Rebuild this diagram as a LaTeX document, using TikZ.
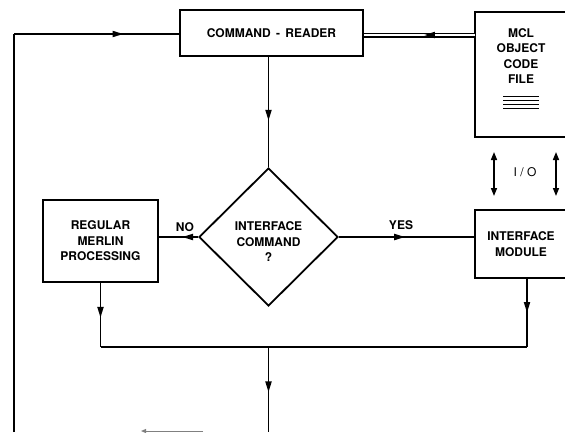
\documentclass[tikz,border=0pt]{standalone}
\usepackage{fontspec}
\setmainfont{TeX Gyre Heros}
\usetikzlibrary{shapes.geometric,arrows.meta,decorations.markings}
\newcommand\lblfont{\bfseries\fontsize{12}{15.5}\selectfont}
\tikzset{
 box/.style={draw, line width=1.8pt, rectangle, inner sep=0pt, font=\lblfont, align=center},
 lbl/.style={font=\lblfont, align=center, inner sep=0pt},
 conn/.style={line width=1.5pt},
 marr/.style={postaction={decorate}, decoration={markings, mark=at position #1 with {\fill (5pt,0pt) -- (-5.5pt,3.3pt) -- (-5.5pt,-3.3pt) -- cycle;}}},
 iotip/.style={{Triangle[length=8pt,width=6pt]}-{Triangle[length=8pt,width=6pt]}},
}
\begin{document}
\begin{tikzpicture}[x=1pt,y=-1pt]
\useasboundingbox (0,0) rectangle (565,432);
\clip (0,0) rectangle (565,432);
% boxes
\node[box, minimum width=183pt, minimum height=46pt] (cr) at (271.5,33) {COMMAND\ \,-\ \,READER};
\node[box, minimum width=92pt, minimum height=125pt] (mcl) at (521,74.5) {};
\node[lbl] (mcltxt) at (521,56) {MCL\\OBJECT\\CODE\\FILE};
\foreach \yy in {96.5,100.5,104.5,108.5} \draw[line width=1.8pt] (503,\yy) -- (539,\yy);
\node[box, minimum width=92pt, minimum height=68pt] (im) at (521,244) {INTERFACE\\MODULE};
\node[box, minimum width=115pt, minimum height=82pt] (reg) at (100.5,241) {REGULAR\\MERLIN\\PROCESSING};
\node[draw, diamond, line width=1.8pt, minimum width=139pt, minimum height=138pt, inner sep=0pt] (dec) at (268.5,237) {};
\node[lbl] (dectxt) at (268.5,242) {INTERFACE\\COMMAND\\?};
% labels
\node[lbl] (notxt) at (185,227) {NO};
\node[lbl] (yestxt) at (401,225) {YES};
\node[lbl, font=\fontsize{12}{14}\selectfont] (iotxt) at (525,172) {I / O};
% coordinates
\coordinate (dblA) at (475,35);
\coordinate (loopbot) at (14,432);
\coordinate (loopcorner) at (14,34);
\coordinate (jl) at (100.5,347);
\coordinate (jr) at (527,347);
\coordinate (jm) at (268.5,347);
\coordinate (bot) at (268.5,432);
\coordinate (io1a) at (494,152);
\coordinate (io1b) at (494,196);
\coordinate (io2a) at (556,152);
\coordinate (io2b) at (556,196);
\coordinate (fragR) at (203,431);
\coordinate (fragL) at (141,431);
% connectors
\draw[conn, marr=0.53] (cr.south -| dec.north) -- (dec.north);
\draw[line width=1.4pt, double, double distance=2.2pt] (dblA) -- (dblA -| cr.east);
\path[marr=0.41] (dblA) -- (dblA -| cr.east);
\draw[conn] (loopbot) -- (loopcorner);
\draw[conn, marr=0.63] (loopcorner) -- (loopcorner -| cr.west);
\draw[conn, marr=0.27] (dec.west) -- (dec.west -| reg.east);
\draw[conn, marr=0.45] (dec.east) -- (dec.east -| im.west);
\draw[conn, marr=0.46] (reg.south) -- (jl);
\draw[conn, marr=0.42] (jr |- im.south) -- (jr);
\draw[conn] (jl) -- (jr);
\draw[conn, marr=0.47] (jm) -- (bot);
\draw[conn, iotip] (io1a) -- (io1b);
\draw[conn, iotip] (io2a) -- (io2b);
\draw[line width=1pt, gray, -{Triangle[length=5pt,width=4pt]}] (fragR) -- (fragL);
\end{tikzpicture}
\end{document}
